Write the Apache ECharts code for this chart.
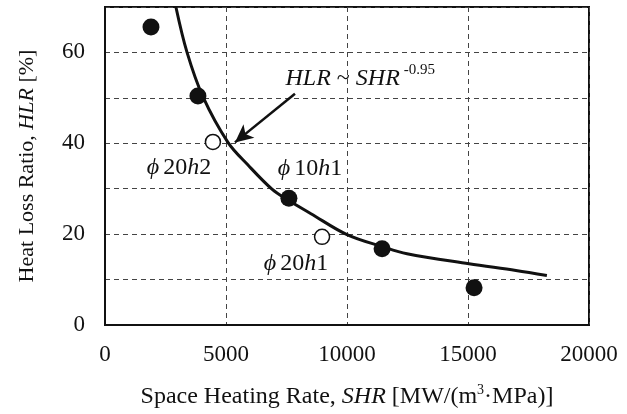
<!DOCTYPE html>
<html>
<head>
<meta charset="utf-8">
<title>HLR vs SHR</title>
<script src="https://cdn.jsdelivr.net/npm/echarts@6/dist/echarts.min.js"></script>
<style>
  html, body { margin: 0; padding: 0; background: #ffffff; }
  #chart { width: 627px; height: 414px; }
</style>
</head>
<body>
<div id="chart"></div>
<script>
// measured points
var shrFilled = [1900, 3840, 7600, 11450, 15250];
var hlrFilled = [65.6, 50.4, 27.9, 16.8, 8.2];
var shrOpen = [4460, 8970];
var hlrOpen = [40.3, 19.4];

// hand drawn fit curve
var shrCurve = [2930, 3390, 4050, 5080, 5910, 6900, 7560, 8510, 10000, 11490, 12480, 15040, 16980, 18260];
var hlrCurve = [70, 60, 50.2, 40.2, 35.2, 29.9, 27.5, 24.5, 19.9, 17.2, 15.7, 13.5, 12.0, 10.9];

// axis ticks
var xTicks = [0, 5000, 10000, 15000, 20000];
var yTicks = [0, 20, 40, 60];

// annotation anchors (data coords)
var arrowFrom = [7850, 50.9];
var arrowTo = [5370, 40.2];
var noteEq = [10550, 54.3];
var noteA = [3060, 34.7];   // phi20h2
var noteB = [8470, 34.3];   // phi10h1
var noteC = [7890, 13.5];   // phi20h1

function zip(a, b) {
  return a.map(function (v, i) { return [v, b[i]]; });
}

var serif = 'Liberation Serif';
var ink = '#111';

var richNote = {
  i: { fontFamily: serif, fontStyle: 'italic', fontSize: 24, color: ink },
  n: { fontFamily: serif, fontSize: 24, color: ink },
  s: { fontFamily: serif, fontSize: 24, color: ink, width: 4 },
  sup: { fontFamily: serif, fontSize: 15, color: ink, padding: [0, 0, 16, 0] }
};

function note(coord, text) {
  return {
    coord: coord,
    symbolSize: 0,
    label: { show: true, position: 'inside', formatter: text, rich: richNote }
  };
}

var chart = echarts.init(document.getElementById('chart'));
chart.setOption({
  backgroundColor: '#ffffff',
  animation: false,
  grid: {
    left: 105, right: 38, top: 7, bottom: 85,
    show: true, borderColor: ink, borderWidth: 2
  },
  xAxis: {
    type: 'value', min: 0, max: 20000, interval: 5000,
    axisLine: { show: true, lineStyle: { color: ink, width: 2 } },
    axisTick: { show: false },
    splitLine: { show: true, lineStyle: { color: '#444', type: [5, 4], width: 1 } },
    axisLabel: {
      margin: 18, fontFamily: serif, fontSize: 23, color: ink,
      formatter: function (v) { return xTicks.indexOf(v) >= 0 ? String(v) : ''; }
    },
    name: 'Space Heating Rate, {i|SHR} [MW/(m{sup|3}·MPa)]',
    nameLocation: 'middle',
    nameGap: 58,
    nameTextStyle: {
      fontFamily: serif, fontSize: 24, color: ink,
      rich: {
        i: { fontFamily: serif, fontStyle: 'italic', fontSize: 24, color: ink },
        sup: { fontFamily: serif, fontSize: 14, color: ink, padding: [0, 0, 14, 0] }
      }
    }
  },
  yAxis: {
    type: 'value', min: 0, max: 70, interval: 10,
    axisLine: { show: true, lineStyle: { color: ink, width: 2 } },
    axisTick: { show: false },
    splitLine: { show: true, lineStyle: { color: '#444', type: [5, 4], width: 1 } },
    axisLabel: {
      margin: 20, fontFamily: serif, fontSize: 23, color: ink,
      formatter: function (v) { return yTicks.indexOf(v) >= 0 ? String(v) : ''; }
    },
    name: 'Heat Loss Ratio, {i|HLR} [%]',
    nameLocation: 'middle',
    nameGap: 67,
    nameTextStyle: {
      fontFamily: serif, fontSize: 22, color: ink,
      rich: { i: { fontFamily: serif, fontStyle: 'italic', fontSize: 22, color: ink } }
    }
  },
  series: [
    {
      name: 'fit',
      type: 'line',
      data: zip(shrCurve, hlrCurve),
      smooth: 0.35,
      symbol: 'none',
      lineStyle: { color: ink, width: 3 },
      z: 3,
      markLine: {
        silent: true,
        symbol: ['none', 'arrow'],
        symbolSize: [13, 18],
        label: { show: false },
        lineStyle: { color: ink, width: 2.5, type: 'solid' },
        data: [[{ coord: arrowFrom }, { coord: arrowTo }]]
      },
      markPoint: {
        silent: true,
        data: [
          note(noteEq, '{i|HLR}{n| ~ }{i|SHR}{s|}{sup|-0.95}'),
          note(noteA, '{i|ϕ}{s|}{n|20}{i|h}{n|2}'),
          note(noteB, '{i|ϕ}{s|}{n|10}{i|h}{n|1}'),
          note(noteC, '{i|ϕ}{s|}{n|20}{i|h}{n|1}')
        ]
      }
    },
    {
      name: 'filled',
      type: 'scatter',
      data: zip(shrFilled, hlrFilled),
      symbol: 'circle',
      symbolSize: 17,
      itemStyle: { color: ink, opacity: 1 },
      z: 4
    },
    {
      name: 'open',
      type: 'scatter',
      data: zip(shrOpen, hlrOpen),
      symbol: 'circle',
      symbolSize: 15,
      itemStyle: { color: '#ffffff', borderColor: ink, borderWidth: 1.5, opacity: 1 },
      z: 4
    }
  ]
});
</script>
</body>
</html>
